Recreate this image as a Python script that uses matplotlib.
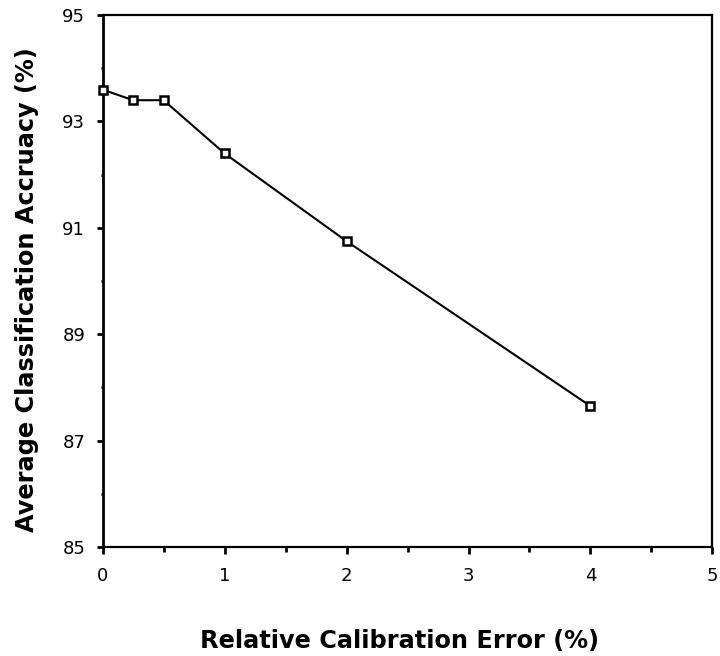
import matplotlib
matplotlib.use("Agg")
import matplotlib.pyplot as plt

plt.rcParams['font.family'] = ['DejaVu Sans']

calib_error = [0, 0.25, 0.5, 1, 2, 4]
accuracy = [93.6, 93.4, 93.4, 92.4, 90.75, 87.65]
x_major = [0, 1, 2, 3, 4, 5]
x_minor = [0.5, 1.5, 2.5, 3.5, 4.5]
y_major = [85, 87, 89, 91, 93, 95]
y_minor = [86, 88, 90, 92, 94]

fig = plt.figure(figsize=(7.2, 6.56), dpi=100)
ax = fig.add_axes([0.1425, 0.166, 0.847, 0.811])

ax.plot(calib_error, accuracy, color='black', linewidth=1.5,
        marker='s', markersize=6, markerfacecolor='white',
        markeredgecolor='black', markeredgewidth=1.8, clip_on=False, zorder=3)

ax.set_xlim(0, 5)
ax.set_ylim(85, 95)
ax.set_xticks(x_major)
ax.set_xticks(x_minor, minor=True)
ax.set_yticks(y_major)
ax.set_yticks(y_minor, minor=True)

ax.tick_params(which='major', direction='out', length=5, width=2, labelsize=13)
ax.tick_params(axis='x', which='major', pad=9)
ax.tick_params(axis='y', which='major', pad=8, length=4.5)
ax.tick_params(axis='x', which='minor', direction='out', length=3.5, width=2)
ax.tick_params(axis='y', which='minor', direction='out', length=1.5, width=2)

ax.spines['left'].set_linewidth(2)
for side in ['bottom', 'top', 'right']:
    ax.spines[side].set_linewidth(1.6)

ax.set_xlabel('Relative Calibration Error (%)', fontsize=17.3, fontweight='bold')
ax.set_ylabel('Average Classification Accruacy (%)', fontsize=17.3, fontweight='bold')
ax.xaxis.label.set_va('center')
ax.yaxis.label.set_va('center')
ax.xaxis.set_label_coords(0.487, -0.177)
ax.yaxis.set_label_coords(-0.124, 0.485)

fig.savefig('out.png', dpi=100)
